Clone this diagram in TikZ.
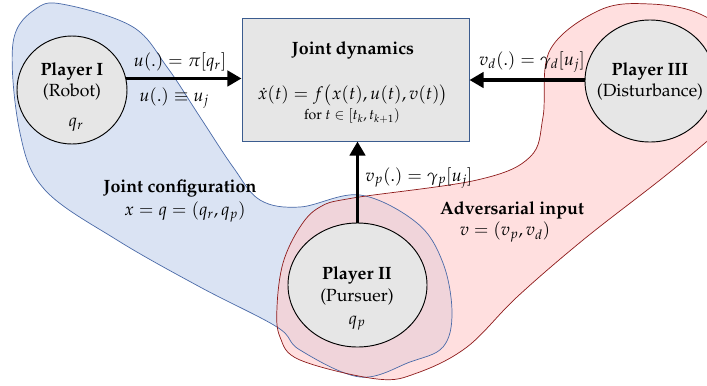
\documentclass[tikz,border=0pt]{standalone}
\usepackage[T1]{fontenc}
\usepackage{mathpazo}
\usetikzlibrary{arrows.meta,calc,positioning,shapes.geometric}
\definecolor{BlobBlue}{HTML}{DAE3F3}
\definecolor{BlobBlueLine}{HTML}{4A6AA8}
\definecolor{BlobRed}{HTML}{FFCACA}
\definecolor{BlobRedLine}{HTML}{8E1B1B}
\definecolor{PlayerFill}{HTML}{E6E6E6}
\definecolor{BoxLine}{HTML}{3B5C8F}
\tikzset{
  every node/.style={font=\fontsize{15}{17}\selectfont, text=black},
  player/.style={ellipse, draw=black, line width=0.8pt, fill=PlayerFill, inner sep=0pt},
  dynbox/.style={rectangle, draw=BoxLine, line width=0.8pt, fill=PlayerFill, inner sep=0pt},
  heading/.style={font=\fontsize{15.2}{17}\selectfont\bfseries},
  flow/.style={-{Triangle[length=12pt,width=13pt]}, line width=3.3pt},
}

\begin{document}
\begin{tikzpicture}[x=0.03cm,y=-0.03cm]
  \clip (0,0) rectangle (707,385);

  % Joint configuration region (blue) and adversarial region (red)
  \fill[BlobBlue] plot[smooth cycle, tension=0.6] coordinates {
    (13,43) (37,8) (67,5) (133,27) (167,67) (200,117) (233,167) (260,200)
    (300,207) (360,195) (417,223) (443,263) (452,313) (443,347) (410,362)
    (360,377) (300,350) (277,327) (200,287) (117,240) (45,190) (20,133)};
  \fill[BlobRed, fill opacity=0.6] plot[smooth cycle, tension=0.6] coordinates {
    (353,198) (477,180) (530,157) (543,117) (550,50) (600,10) (650,4)
    (700,14) (738,45) (748,105) (705,143) (660,180) (583,240) (517,297)
    (467,347) (417,373) (377,379) (300,360) (280,337) (277,307) (283,263)
    (300,227) (320,207)};
  \draw[BlobBlueLine, line width=0.6pt] plot[smooth cycle, tension=0.6] coordinates {
    (13,43) (37,8) (67,5) (133,27) (167,67) (200,117) (233,167) (260,200)
    (300,207) (360,195) (417,223) (443,263) (452,313) (443,347) (410,362)
    (360,377) (300,350) (277,327) (200,287) (117,240) (45,190) (20,133)};
  \draw[BlobRedLine, line width=0.6pt] plot[smooth cycle, tension=0.6] coordinates {
    (353,198) (477,180) (530,157) (543,117) (550,50) (600,10) (650,4)
    (700,14) (738,45) (748,105) (705,143) (660,180) (583,240) (517,297)
    (467,347) (417,373) (377,379) (300,360) (280,337) (277,307) (283,263)
    (300,227) (320,207)};

  % Players and joint dynamics block
  \node[player, minimum width=3.3cm, minimum height=3.24cm] (p1) at (72,90) {};
  \node[heading] (p1name) at (72,71) {Player I};
  \node (p1role) at (72,92) {(Robot)};
  \node (p1state) at (76,125) {$q_r$};

  \node[player, minimum width=4.17cm, minimum height=3.72cm] (p2) at (357.5,285) {};
  \node[heading] (p2name) at (357,275) {Player II};
  \node (p2role) at (357,297) {(Pursuer)};
  \node (p2state) at (357,323) {$q_p$};

  \node[player, minimum width=3.9cm, minimum height=3.66cm] (p3) at (650,81) {};
  \node[heading] (p3name) at (650,71) {Player III};
  \node (p3role) at (650,92) {(Disturbance)};

  \node[dynbox, minimum width=6.81cm, minimum height=3.69cm] (dyn) at (355.5,79.5) {};
  \node[heading] (dynname) at (353,50) {Joint dynamics};
  \node[inner sep=1pt] (dyneq) at (353,95) {$\dot{x}(t) = f\big(x(t),u(t),v(t)\big)$};
  \node[font=\fontsize{12}{14}\selectfont, inner sep=1pt] (dynrange) at (352,116) {for $t\in[t_k,t_{k+1})$};

  % Signals into the dynamics
  \draw[flow] (p1.12) -- (p1.12 -| dyn.west);
  \draw[flow] (p3.west |- 0,80) -- (dyn.east |- 0,80);
  \draw[flow] (p2.north) -- (p2.north |- dyn.south);
  \node (ulaw) at (180,62) {$u(.) = \pi[q_r]$};
  \node (ujoint) at (174,98) {$u(.) \equiv u_j$};
  \node (vdlaw) at (532,62) {$v_d(.) = \gamma_d[u_j]$};
  \node (vplaw) at (419,178) {$v_p(.) = \gamma_p[u_j]$};

  % Region captions
  \node[heading] (cfgname) at (180,188) {Joint configuration};
  \node (cfgeq) at (185,212) {$x = q = (q_r,q_p)$};
  \node[heading] (advname) at (512,210) {Adversarial input};
  \node (adveq) at (505,232) {$v = (v_p,v_d)$};
\end{tikzpicture}
\end{document}
